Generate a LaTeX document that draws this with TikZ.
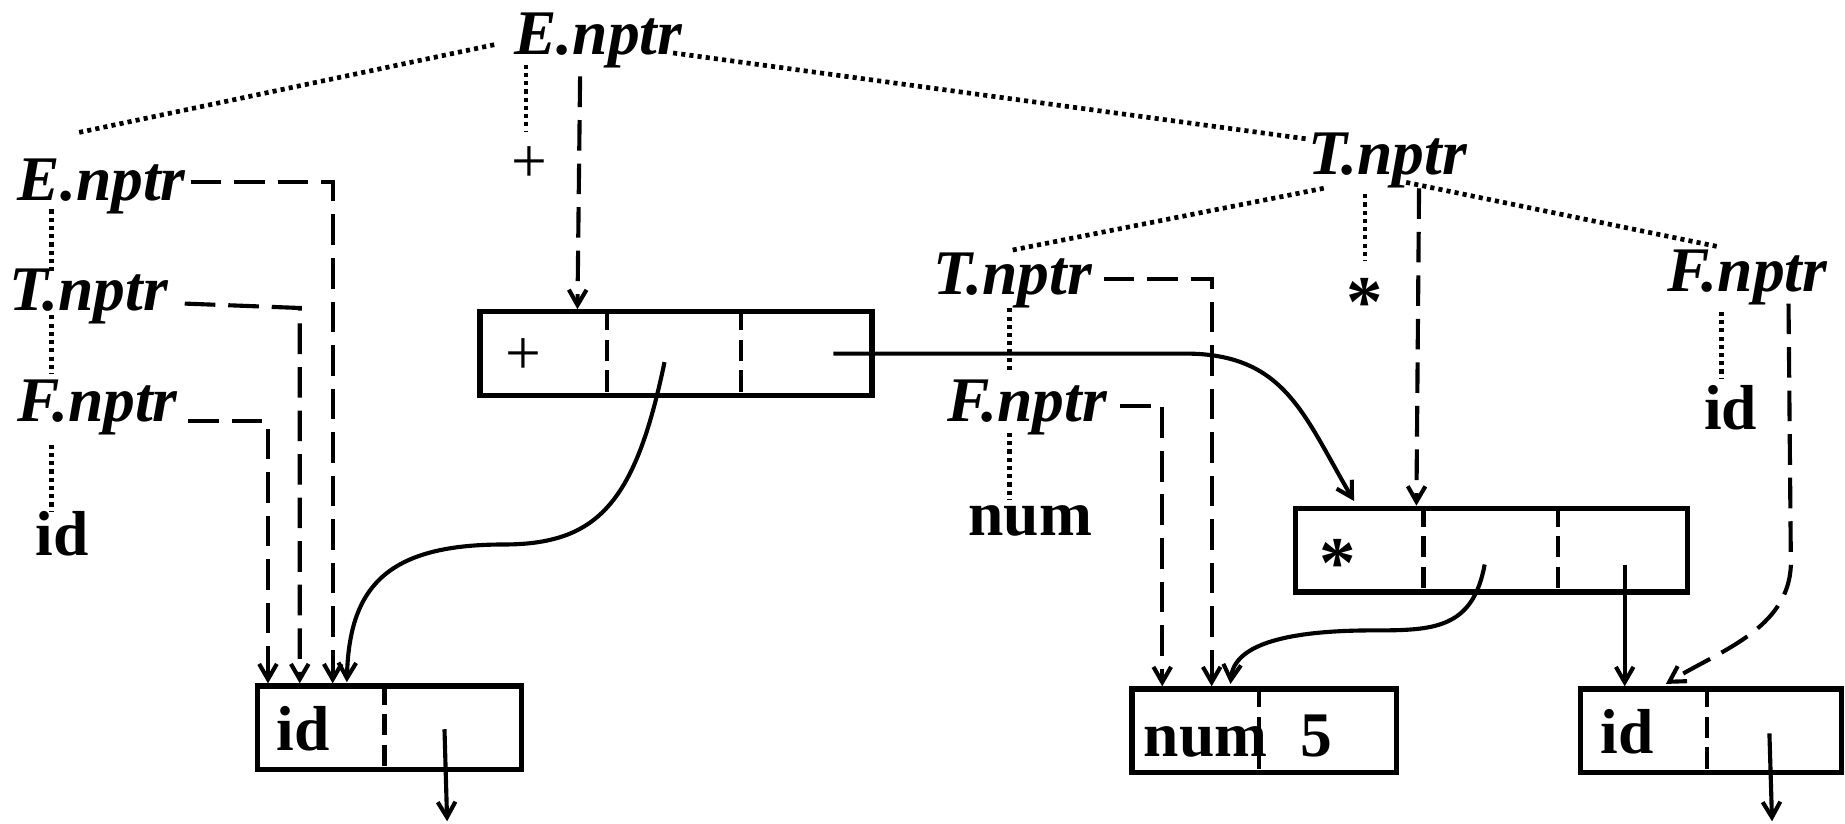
\documentclass[tikz,border=0pt]{standalone}
\usepackage{fontspec}
\setmainfont{Liberation Serif}
\usepackage{tikz}
\usetikzlibrary{positioning,calc,arrows.meta}

\begin{document}
\begin{tikzpicture}[x=1pt,y=-1pt,
	lbl/.style={inner sep=0pt,anchor=base west,font=\fontsize{54}{54}\selectfont\bfseries\itshape},
	sym/.style={inner sep=0pt,font=\fontsize{54}{54}\selectfont\bfseries},
	cell/.style={draw,line width=4.5pt,minimum height=71pt,inner sep=0pt},
	divider/.style={line width=3.5pt,dash pattern=on 18pt off 8pt},
	tree/.style={line width=4pt,dash pattern=on 3.5pt off 3.5pt},
	valptr/.style={line width=3.5pt,dash pattern=on 26pt off 11pt,-{Straight Barb[length=13pt,width=15pt]}},
	ptr/.style={line width=3.5pt,-{Straight Barb[length=13pt,width=15pt]}}]
	\useasboundingbox (0,0) rectangle (1568,700);

	% parse tree: E -> E + T
	\node[lbl] (eTop) at (437,46) {E.nptr};
	\node[font=\fontsize{54}{54}\selectfont,inner sep=0pt] (plus) at (450,140) {+};
	\node[lbl] (eL) at (15,170) {E.nptr};
	\node[lbl] (tL) at (8,264) {T.nptr};
	\node[lbl] (fL) at (15,358) {F.nptr};
	\node[sym,anchor=base west] (idL) at (30,472) {id};

	% T -> T * F
	\node[lbl] (tTop) at (1112,148) {T.nptr};
	\node[lbl] (tMid) at (793,250) {T.nptr};
	\node[sym,font=\fontsize{62}{62}\selectfont\bfseries] (star) at (1160,257) {*};
	\node[lbl] (fMid) at (805,358) {F.nptr};
	\node[sym,anchor=base west] (numL) at (823,455) {num};
	\node[lbl] (fR) at (1417,248) {F.nptr};
	\node[sym,anchor=base west] (idR) at (1448,365) {id};

	% syntax tree records
	\node[cell,minimum width=333pt] (plusBox) at (574.5,300.5) {};
	\node[cell,minimum width=333pt] (starBox) at (1267.5,467.5) {};
	\node[cell,minimum width=224pt] (idBoxL) at (331,618.5) {};
	\node[cell,minimum width=225pt] (numBox) at (1074.5,621) {};
	\node[cell,minimum width=222pt] (idBoxR) at (1454,621) {};
	\foreach \b/\off in {plusBox/110,plusBox/224,starBox/111,starBox/225,idBoxL/110,numBox/110,idBoxR/110}
		\draw[divider] ($(\b.north west)+(\off,0)$) -- ($(\b.south west)+(\off,0)$);

	\node[font=\fontsize{54}{54}\selectfont,inner sep=0pt] (plusTxt) at (445,303) {+};
	\node[sym,font=\fontsize{62}{62}\selectfont\bfseries] (starTxt) at (1137,479) {*};
	\node[sym,anchor=base west] (idTxtL) at (235,638) {id};
	\node[sym,anchor=base west] (numTxt) at (972,643) {num};
	\node[sym,anchor=base west] (fiveTxt) at (1105,643) {5};
	\node[sym,anchor=base west] (idTxtR) at (1360,640) {id};

	% dotted tree edges
	\draw[tree] ($(eTop.base west)+(-17,-8)$) -- ($(eL.base west)+(50,-57)$);
	\draw[tree] ($(eTop.base west)+(135,-1)$) -- ($(tTop.base west)+(-2,-30)$);
	\draw[tree] ($(eTop.base west)+(10,9)$) -- ($(plus.center)+(-3,-28)$);
	\draw[tree] ($(eL.base west)+(29,8)$) -- ($(tL.base west)+(36,-32)$);
	\draw[tree] ($(tL.base west)+(36,4)$) -- ($(fL.base west)+(29,-40)$);
	\draw[tree] ($(fL.base west)+(29,20)$) -- ($(idL.base west)+(14,-37)$);
	\draw[tree] ($(tTop.base west)+(13,12)$) -- ($(tMid.base west)+(65,-37)$);
	\draw[tree] ($(tTop.base west)+(48,17)$) -- ($(star.center)+(0,-35)$);
	\draw[tree] ($(tTop.base west)+(83,7)$) -- ($(fR.base west)+(45,-38)$);
	\draw[tree] ($(tMid.base west)+(65,12)$) -- ($(fMid.base west)+(53,-40)$);
	\draw[tree] ($(fMid.base west)+(53,10)$) -- ($(numL.base west)+(35,-30)$);
	\draw[tree] ($(fR.base west)+(46,17)$) -- ($(idR.base west)+(15,-43)$);

	% nptr values (dashed)
	\draw[valptr] ($(eTop.base west)+(56,19)$) -- ($(plusBox.north west)+(85,0)$);
	\draw[valptr] ($(eL.base west)+(147,-15)$) -| ($(idBoxL.north west)+(66,0)$);
	\draw[valptr] ($(tL.base west)+(149,-6)$) -- ($(idBoxL.north west)+(38,-319)$) -- ($(idBoxL.north west)+(38,0)$);
	\draw[valptr] ($(fL.base west)+(145,0)$) -| ($(idBoxL.north west)+(11,0)$);
	\draw[valptr] ($(tTop.base west)+(94,12)$) -- ($(starBox.north west)+(105,0)$);
	\draw[valptr] ($(tMid.base west)+(145,-13)$) -| ($(numBox.north west)+(70,0)$);
	\draw[valptr] ($(fMid.base west)+(147,-13)$) -| ($(numBox.north west)+(28,0)$);
	\draw[valptr] ($(fR.base west)+(103,10)$) -- ++(2,222) .. controls +(-2,55) and +(45,-28) .. ($(idBoxR.north west)+(75,-2)$);

	% record pointers
	\draw[ptr] ($(plusBox.east)+(-35,0)$) -- ++(299,0) .. controls +(85,0) and +(-43,-73) .. ($(starBox.north west)+(52,-4)$);
	\draw[ptr] ($(plusBox.north west)+(159,45)$) .. controls +(-25,120) and +(80,0) .. ++(-137,155)
		.. controls +(-100,0) and +(2,-80) .. ($(idBoxL.north west)+(78,-1)$);
	\draw[ptr] ($(starBox.north west)+(163,50)$) .. controls +(-10,55) and +(50,0) .. ++(-94,56)
		.. controls +(-70,0) and +(3,-35) .. ($(numBox.north west)+(86,-2)$);
	\draw[ptr] ($(starBox.north west)+(282,50)$) -- ($(idBoxR.north west)+(40,0)$);
	\coordinate (outL) at (380,698);
	\coordinate (outR) at (1506,698);
	\draw[ptr] ($(idBoxL.north west)+(161,39)$) -- (outL);
	\draw[ptr] ($(idBoxR.north west)+(163,40)$) -- (outR);
\end{tikzpicture}
\end{document}
